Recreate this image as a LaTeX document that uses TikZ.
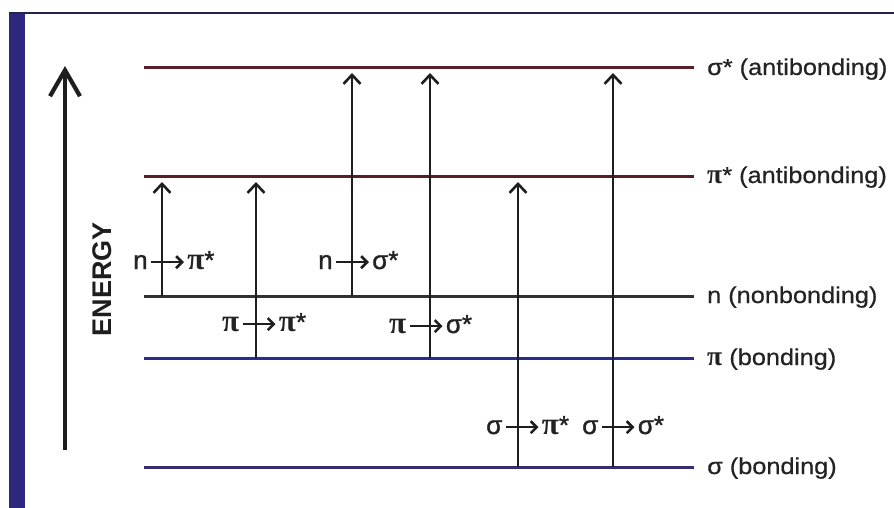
\documentclass[tikz,border=0pt]{standalone}
\usepackage{fontspec}
\setmainfont{Liberation Sans}
\newfontfamily\lblfont{Liberation Sans}[FakeStretch=1.1,FakeBold=0.6]
\newfontfamily\tfont{Liberation Sans}[FakeBold=1.2]
\newfontfamily\pifont{Liberation Serif}[Scale=1.2]
\usetikzlibrary{arrows.meta}
\definecolor{antib}{RGB}{90,30,40}
\definecolor{nonb}{RGB}{50,50,50}
\definecolor{pib}{RGB}{40,45,135}
\definecolor{sigb}{RGB}{55,45,115}
\definecolor{barc}{RGB}{45,40,125}
\definecolor{topc}{RGB}{35,35,75}
\definecolor{txt}{RGB}{35,35,35}
\definecolor{arr}{RGB}{30,30,30}
\newcommand\PIg{{\pifont\bfseries π}}
\newcommand\tarrow{\hspace{2pt}\tikz[x=1pt,y=1pt,baseline=-0.5ex]\draw[line width=2.6pt,arr,-{Straight Barb[length=6pt,width=12pt]}] (0,0)--(33,0);\hspace{2pt}}
\tikzset{
  level/.style={line width=3pt},
  trans/.style={line width=2.6pt,arr,-{Straight Barb[length=9pt,width=17pt]}},
  lvllab/.style={anchor=base west,inner sep=0pt,text=txt,font=\lblfont\fontsize{23}{26}\selectfont},
  tlab/.style={anchor=base west,inner sep=0pt,text=txt,font=\tfont\fontsize{26}{30}\selectfont},
}
\begin{document}
\begin{tikzpicture}[x=1pt,y=-1pt]
\useasboundingbox (0,0) rectangle (894,508);
\fill[white] (0,0) rectangle (894,508);
% frame
\fill[barc] (9,12) rectangle (25,508);
\draw[topc,line width=2.5pt] (9,13) -- (894,13);
% energy axis
\coordinate (eB) at (65,450);
\coordinate (eT) at (65,66);
\draw[arr,line width=4.2pt,-{Straight Barb[length=26pt,width=30pt]}] (eB) -- (eT);
\node[rotate=90,text=arr,font=\bfseries\fontsize{27}{30}\selectfont,inner sep=0pt] (energy) at (102.5,279) {ENERGY};
% levels
\coordinate (ssL) at (144,68);  \coordinate (ssR) at (694,68);
\coordinate (psL) at (144,176); \coordinate (psR) at (694,176);
\coordinate (nL)  at (144,296); \coordinate (nR)  at (694,296);
\coordinate (pL)  at (144,358); \coordinate (pR)  at (694,358);
\coordinate (sL)  at (144,467); \coordinate (sR)  at (694,467);
\draw[level,antib] (ssL) -- (ssR);
\draw[level,antib] (psL) -- (psR);
\draw[level,nonb]  (nL) -- (nR);
\draw[level,pib]   (pL) -- (pR);
\draw[level,sigb]  (sL) -- (sR);
\node[lvllab] (lss) at (707,75)  {σ* (antibonding)};
\node[lvllab] (lps) at (707,183) {\PIg* (antibonding)};
\node[lvllab] (ln)  at (707,303) {n (nonbonding)};
\node[lvllab] (lp)  at (707,365) {\PIg\ (bonding)};
\node[lvllab] (ls)  at (707,474) {σ (bonding)};
% transitions
\coordinate (a1s) at (162,296); \coordinate (a1e) at (162,182);
\coordinate (a2s) at (256,358); \coordinate (a2e) at (256,182);
\coordinate (a3s) at (352,296); \coordinate (a3e) at (352,73);
\coordinate (a4s) at (430,358); \coordinate (a4e) at (430,73);
\coordinate (a5s) at (518,467); \coordinate (a5e) at (518,182);
\coordinate (a6s) at (613,467); \coordinate (a6e) at (613,73);
\draw[trans] (a1s) -- (a1e);
\draw[trans] (a2s) -- (a2e);
\draw[trans] (a3s) -- (a3e);
\draw[trans] (a4s) -- (a4e);
\draw[trans] (a5s) -- (a5e);
\draw[trans] (a6s) -- (a6e);
\node[tlab] (t1) at (133,269) {n\tarrow\PIg*};
\node[tlab] (t2) at (222,331) {\PIg\tarrow\PIg*};
\node[tlab] (t3) at (318,269) {n\tarrow σ*};
\node[tlab] (t4) at (389,333) {\PIg\tarrow σ*};
\node[tlab] (t5) at (486,434) {σ\tarrow\PIg*};
\node[tlab] (t6) at (582,434) {σ\tarrow σ*};
\end{tikzpicture}
\end{document}
